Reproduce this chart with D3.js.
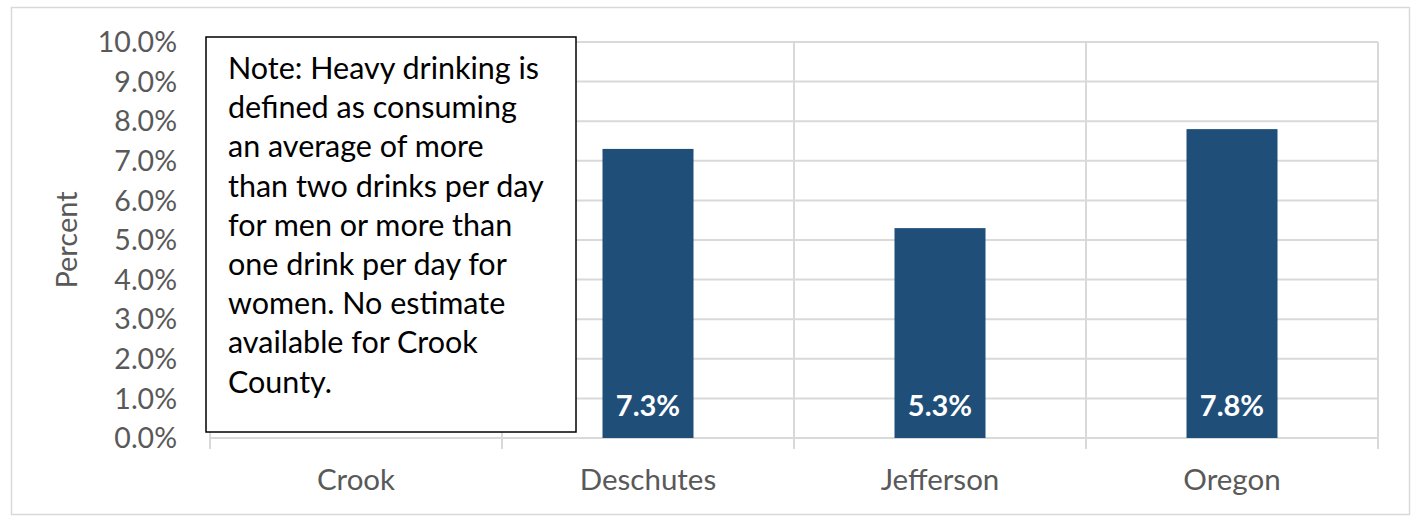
<!DOCTYPE html>
<html><head><meta charset="utf-8">
<script src="https://cdn.jsdelivr.net/npm/d3@7"></script>
<style>body{margin:0;background:#fff}svg{display:block}</style>
</head><body><svg id="c" width="1420" height="516"></svg>
<script>
const categories = ["Crook","Deschutes","Jefferson","Oregon"];
const values = [null, 7.3, 5.3, 7.8];
const yTicks = [0,1,2,3,4,5,6,7,8,9,10];
const yTitle = "Percent";
const noteLines = ["Note: Heavy drinking is","defined as consuming","an average of more","than two drinks per day","for men or more than","one drink per day for","women. No estimate","available for Crook","County."];

const svg = d3.select("#c");
const font = "Lato, 'Open Sans', sans-serif";
const grey = "#595959", grid = "#d9d9d9", barColor = "#1f4e79";

svg.append("rect").attr("x",11.5).attr("y",7.5).attr("width",1398).attr("height",507)
  .attr("fill","#fff").attr("stroke","#d9d9d9").attr("stroke-width",1.5);

const x = d3.scaleBand().domain(categories).range([210,1378]).paddingInner(0).paddingOuter(0);
const y = d3.scaleLinear().domain([0,10]).range([438,42]);
const barW = 91;

svg.append("g").selectAll("line").data(yTicks).join("line")
  .attr("x1",210).attr("x2",1378).attr("y1",d=>y(d)).attr("y2",d=>y(d))
  .attr("stroke",grid).attr("stroke-width",2);
const bounds = categories.map(c=>x(c)).concat([x.range()[1]]);
svg.append("g").selectAll("line").data(bounds).join("line")
  .attr("x1",d=>d).attr("x2",d=>d).attr("y1",y(10)).attr("y2",y(0)+11)
  .attr("stroke",grid).attr("stroke-width",2);

svg.append("g").selectAll("text").data(yTicks).join("text")
  .attr("x",177).attr("y",d=>y(d)).attr("dy","0.36em").attr("text-anchor","end")
  .attr("font-family",font).attr("font-size",28.5).attr("fill",grey)
  .text(d=>d.toFixed(1)+"%");

svg.append("text").attr("transform","translate(77,240) rotate(-90)")
  .attr("text-anchor","middle").attr("font-family",font).attr("font-size",29).attr("fill",grey).text(yTitle);

const data = categories.map((c,i)=>({c,v:values[i]})).filter(d=>d.v!=null);
svg.append("g").selectAll("rect").data(data).join("rect")
  .attr("x",d=>x(d.c)+x.bandwidth()/2-barW/2).attr("width",barW)
  .attr("y",d=>y(d.v)).attr("height",d=>y(0)-y(d.v)).attr("fill",barColor);
svg.append("g").selectAll("text").data(data).join("text")
  .attr("x",d=>x(d.c)+x.bandwidth()/2).attr("y",y(0)-22)
  .attr("text-anchor","middle").attr("font-family",font).attr("font-weight","bold")
  .attr("font-size",29).attr("fill","#fff").text(d=>d.v.toFixed(1)+"%");

svg.append("g").selectAll("text").data(categories).join("text")
  .attr("x",d=>x(d)+x.bandwidth()/2).attr("y",490).attr("text-anchor","middle")
  .attr("font-family",font).attr("font-size",29.5).attr("fill",grey).text(d=>d);

svg.append("rect").attr("x",206).attr("y",37).attr("width",370).attr("height",395)
  .attr("fill","#fff").attr("stroke","#000").attr("stroke-width",1.5);
svg.append("g").selectAll("text").data(noteLines).join("text")
  .attr("x",228).attr("y",(d,i)=>79+i*39.2)
  .attr("font-family",font).attr("font-size",30.5).attr("fill","#000").text(d=>d);
</script></body></html>
